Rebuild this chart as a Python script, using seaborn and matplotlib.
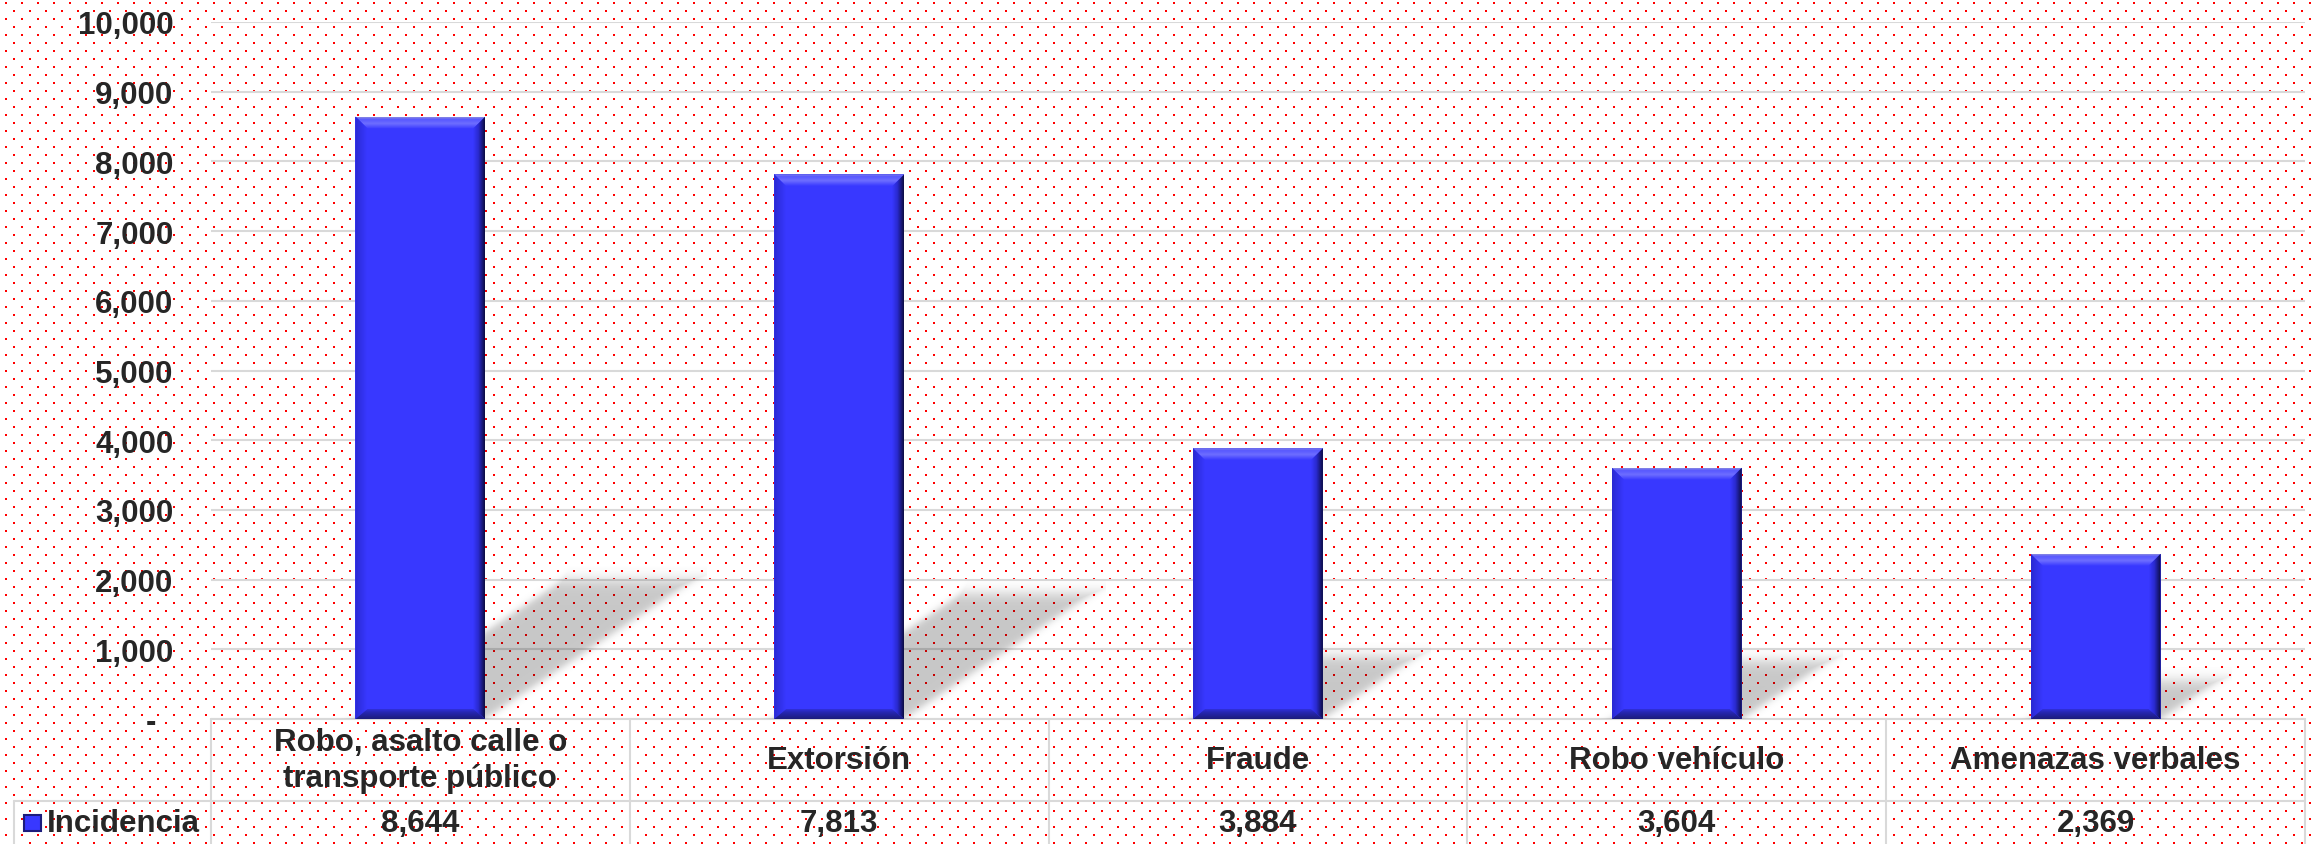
#### Imports ####
import numpy as np
import pandas as pd
import seaborn as sns
import matplotlib.pyplot as plt
import matplotlib.colors as mcolors
from matplotlib.patches import Polygon, Rectangle
from matplotlib.ticker import FuncFormatter, MultipleLocator

#### Data ####
categorias = ['Robo, asalto calle o\ntransporte público', 'Extorsión', 'Fraude',
              'Robo vehículo', 'Amenazas verbales']
incidencia = [8644, 7813, 3884, 3604, 2369]
serie = 'Incidencia'
y_max = 10000
y_step = 1000

df = pd.DataFrame({'categoria': categorias, 'valor': incidencia})

#### Style ####
sns.set_style('white')
plt.rcParams['font.family'] = ['Liberation Sans', 'DejaVu Sans']
FS = 22.5
BLUE = '#3838ff'
GRID = '#d9d9d9'

W, H, DPI = 2315, 845, 100
fig = plt.figure(figsize=(W / DPI, H / DPI), dpi=DPI)
fig.patch.set_facecolor('white')

# red dotted background over the whole figure
bg = np.ones((H, W, 3))
for k, yy in enumerate(range(3, H - 1, 8)):
    off = 5 + (8 if k % 2 else 0)
    for a in (0, 1):
        for b in (0, 1):
            bg[yy + a, off + b::16] = (1.0, 0.0, 0.0)
fig.figimage(bg, xo=0, yo=0, origin='upper', zorder=-10)

# plot area in pixels: x 211..2305, y 23..720
ax = fig.add_axes([211 / W, (H - 720) / H, (2305 - 211) / W, (720 - 23) / H])
ax.set_facecolor('none')

sns.barplot(data=df, x='categoria', y='valor', color=BLUE, saturation=1,
            width=0.31, errorbar=None, linewidth=0, zorder=3, ax=ax)
bars = list(ax.patches)

ax.set_xlim(-0.5, len(categorias) - 0.5)
ax.set_ylim(0, y_max)
px_x = 2094 / len(categorias)   # pixels per category unit
px_y = 697 / y_max              # pixels per value unit


def gradient(verts, stops, vertical, zorder):
    verts = np.asarray(verts, dtype=float)
    poly = Polygon(verts, closed=True, fc='none', ec='none')
    ax.add_patch(poly)
    pos = [p for p, _ in stops]
    rgb = np.array([mcolors.to_rgb(c) for _, c in stops])
    t = np.linspace(0, 1, 128)
    col = np.stack([np.interp(t, pos, rgb[:, k]) for k in range(3)], axis=-1)
    img = col[:, None, :] if vertical else col[None, :, :]
    ext = (verts[:, 0].min(), verts[:, 0].max(), verts[:, 1].min(), verts[:, 1].max())
    im = ax.imshow(img, extent=ext, origin='lower', aspect='auto',
                   interpolation='bilinear', zorder=zorder)
    im.set_clip_path(poly)


#### Shadows + bevels ####
for bar in bars:
    x0 = bar.get_x()
    w = bar.get_width()
    x1 = x0 + w
    h = bar.get_height()

    # blurred sheared shadow, drawn in pixel space
    h_px = h * px_y
    w_px = w * px_x
    dx_px, dy_px = 0.345 * h_px, 0.23 * h_px
    m = 14
    gx = np.arange(-m, w_px + dx_px + m)
    gy = np.arange(0, dy_px + m)
    X, Y = np.meshgrid(gx, gy)
    s = X - dx_px * Y / dy_px
    d = np.maximum(np.maximum(-s, s - w_px), Y - dy_px)
    alpha = 0.22 / (1 + np.exp(d / 4.0))
    rgba = np.zeros(X.shape + (4,))
    rgba[..., 3] = alpha
    ax.imshow(rgba, extent=(x0 - m / px_x, x0 + (w_px + dx_px + m) / px_x,
                            0, (dy_px + m) / px_y),
              origin='lower', aspect='auto', interpolation='bilinear', zorder=2)

    bx = 12 / px_x
    by = 12 / px_y
    bb = 10 / px_y
    # top bevel
    gradient([(x0, h), (x1, h), (x1 - bx, h - by), (x0 + bx, h - by)],
             [(0, BLUE), (0.45, '#6e6eff'), (0.8, '#5858ff'), (1, '#8a8ae0')],
             vertical=True, zorder=4)
    # right bevel
    gradient([(x1, h), (x1, 0), (x1 - bx, bb), (x1 - bx, h - by)],
             [(0, BLUE), (0.45, '#2a2ad0'), (1, '#0c0c40')],
             vertical=False, zorder=4)
    # bottom bevel
    gradient([(x0, 0), (x1, 0), (x1 - bx, bb), (x0 + bx, bb)],
             [(0, '#1c1c7c'), (0.6, '#2626b0'), (1, '#3232e6')],
             vertical=True, zorder=4.5)
    # left bevel
    gradient([(x0, 0), (x0, h), (x0 + bx, h - by), (x0 + bx, bb)],
             [(0, '#2a2ad2'), (1, BLUE)],
             vertical=False, zorder=4)

ax.set_xlim(-0.5, len(categorias) - 0.5)
ax.set_ylim(0, y_max)
ax.set_autoscale_on(False)

#### Axes styling ####
ax.yaxis.set_major_locator(MultipleLocator(y_step))
ax.yaxis.set_major_formatter(FuncFormatter(lambda v, _: f'{v:,.0f}' if v else '-  '))
ax.tick_params(axis='y', length=0, pad=27, labelsize=FS)
for lab in ax.get_yticklabels():
    lab.set_fontweight('bold')
ax.tick_params(axis='x', length=0, labelbottom=False)
ax.set_xlabel('')
ax.set_ylabel('')
ax.grid(axis='y', color=GRID, lw=1.5, zorder=0.5)
ax.set_axisbelow(True)
for sp in ax.spines.values():
    sp.set_visible(False)

#### Data table below the plot ####
tr = ax.get_xaxis_transform()
row1 = -82 / 697
row_bottom = -140 / 697
leg_left = -0.5 - (211 - 14) / px_x
line_kw = dict(color=GRID, lw=1.5, transform=tr, clip_on=False, zorder=1)

ax.plot([-0.5, len(categorias) - 0.5], [0, 0], **line_kw)
ax.plot([leg_left, len(categorias) - 0.5], [row1, row1], **line_kw)
for k in range(len(categorias) + 1):
    ax.plot([k - 0.5, k - 0.5], [0, row_bottom], **line_kw)
ax.plot([leg_left, leg_left], [row1, row_bottom], **line_kw)

for i, (cat, val) in enumerate(zip(categorias, incidencia)):
    ax.text(i, -41 / 697, cat, transform=tr, ha='center', va='center',
            fontsize=FS, fontweight='bold', linespacing=1.25)
    ax.text(i, -104 / 697, f'{val:,}', transform=tr, ha='center', va='center',
            fontsize=FS, fontweight='bold')

# legend key inside the table
key_x = -0.5 - (211 - 24) / px_x
ax.add_patch(Rectangle((key_x, -112 / 697), 17 / px_x, 16 / 697, transform=tr,
                       fc=BLUE, ec='#1c1c7c', lw=1.5, clip_on=False, zorder=5))
ax.text(-0.5 - (211 - 47) / px_x, -104 / 697, serie, transform=tr, ha='left',
        va='center', fontsize=FS, fontweight='bold')

fig.savefig('out.png', dpi=DPI)
